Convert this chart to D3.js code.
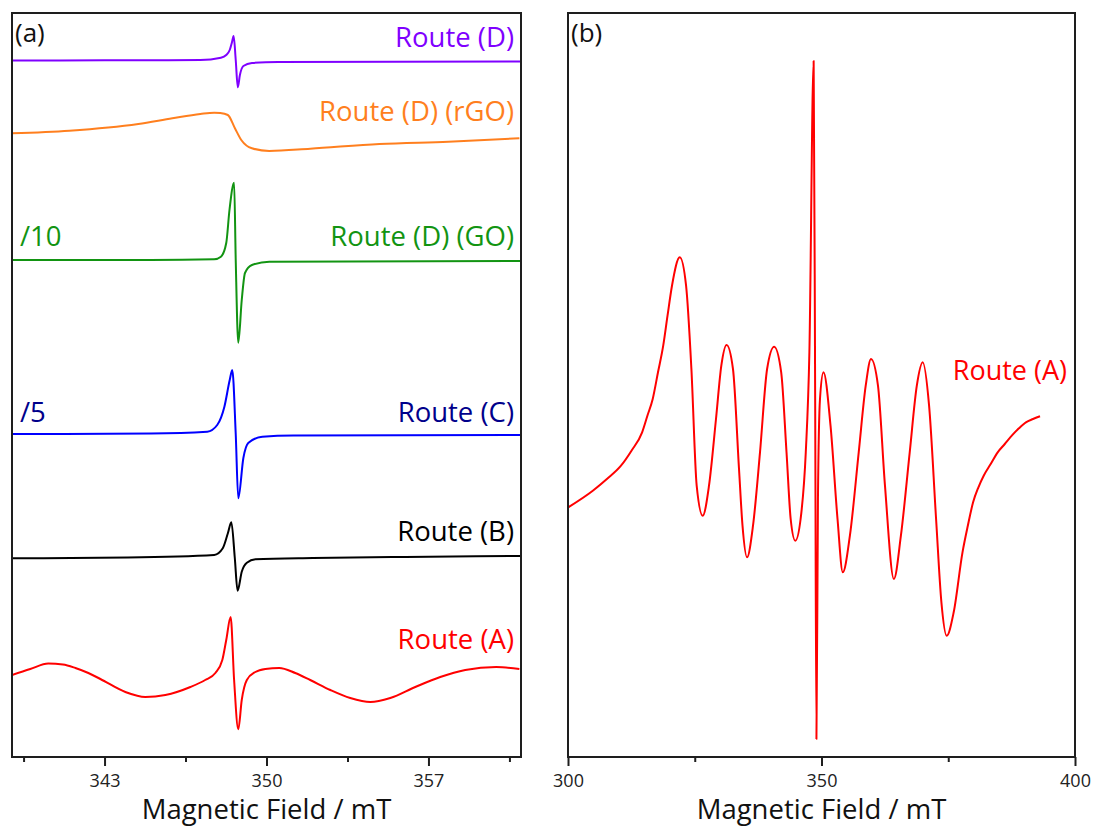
<!DOCTYPE html>
<html>
<head>
<meta charset="utf-8">
<script src="https://cdn.jsdelivr.net/npm/d3@7"></script>
<style>
  body { margin: 0; background: #fff; }
  text { font-family: "Open Sans", sans-serif; }
</style>
</head>
<body>
<div class="chart-container"></div>
<script>
// ---- panel (a): stacked EPR spectra, field in mT, intensity in a.u. above each baseline ----
var fieldA = [339.0, 339.79, 340.57, 341.2, 341.74, 342.3, 342.82, 343.9, 344.76, 345.63, 346.71, 347.35, 347.79, 348.09, 348.26, 348.45, 348.6, 348.78, 348.93, 349.15, 349.52, 349.95, 350.55, 351.24, 351.89, 352.76, 353.62, 354.49, 355.35, 356.43, 357.51, 358.59, 359.93, 360.93];
var intensA = [5, 11, 16.5, 15.5, 12, 7, 1, -12, -17, -15, -7, 0, 7, 20, 40, 63, 0, -49.3, -20, 0, 8, 11, 12, 7, 0, -10, -18, -22, -18, -7, 3, 10, 13, 11];

var fieldB = [339.0, 344.0, 347.74, 348.11, 348.33, 348.48, 348.63, 348.75, 348.93, 349.15, 349.52, 352.0, 356.0, 361.0];
var intensB = [-1.3, -0.5, 2, 8.7, 23.7, 34.7, -1, -33.7, -14.7, -5.7, -2.3, -1, 0, 1];

var fieldC = [339.0, 345.0, 347.44, 347.87, 348.18, 348.41, 348.52, 348.67, 348.78, 349.0, 349.21, 349.82, 351.16, 361.0];
var intensC = [0.5, 1, 2.8, 9.5, 27.8, 54.5, 64.5, 0.5, -63.8, -23.5, -8.5, -2.2, -1, -0.5];

var fieldGO = [339.0, 345.0, 347.74, 348.03, 348.26, 348.40, 348.60, 348.67, 348.78, 348.93, 349.07, 349.37, 350.12, 361.0];
var intensGO = [0.5, 0.5, 1.2, 3.8, 17.5, 50.5, 77.8, 0.5, -82.2, -39.5, -12.5, -4.5, -1.2, -0.5];

var fieldRGO = [339.0, 341.48, 344.46, 345.93, 347.14, 347.74, 348.0, 348.33, 348.63, 348.91, 349.37, 350.12, 351.89, 354.88, 357.86, 360.93];
var intensRGO = [6.7, 9.3, 16, 21.7, 26, 27.3, 27, 25, 12, 0, -8.3, -11, -8.7, -4, -1.7, 1.7];

var fieldD = [339.0, 343.0, 347.14, 348.03, 348.26, 348.41, 348.51, 348.58, 348.67, 348.76, 348.85, 349.0, 349.37, 350.5, 361.0];
var intensD = [0.5, 0.7, 1, 3.3, 6, 11, 19, 25, 1, -26.3, -14, -5, -2, -1, -0.5];

var namesA = ['Route (A)', 'Route (B)', 'Route (C)', 'Route (D) (GO)', 'Route (D) (rGO)', 'Route (D)'];
var offsetsA = [77, 200, 322.5, 496.5, 617, 696];
var lineColors = ['#ff0000', '#000000', '#0000ff', '#129412', '#ff7f1e', '#7f00ff'];
var textColors = ['#ff0000', '#000000', '#00008b', '#129412', '#ff7f1e', '#7f00ff'];
var scaleNotes = ['', '', '/5', '/10', '', ''];

var ticksA = [343, 350, 357];
var minorTicksA = [339.5, 346.5, 353.5, 360.5];

// ---- panel (b): Route (A) wide sweep ----
var fieldWide = [300.04, 304.89, 307.67, 310.45, 312.52, 314.62, 315.66, 316.71, 317.75, 318.78, 319.63, 320.51, 322.05, 323.29, 324.34, 325.38, 326.57, 327.81, 329.19, 330.24, 331.28, 332.54, 333.73, 334.42, 335.31, 336.49, 337.87, 339.27, 340.67, 342.05, 343.10, 343.92, 344.83, 345.88, 346.90, 347.61, 348.45, 348.75, 349.0, 349.3, 349.7, 350.39, 351.78, 353.16, 354.20, 355.60, 357.34, 358.72, 359.76, 361.14, 362.52, 364.28, 365.66, 367.40, 368.80, 369.96, 371.22, 372.60, 373.65, 374.69, 376.07, 377.81, 378.86, 379.90, 380.95, 381.99, 383.37, 384.75, 386.15, 387.53, 388.94, 390.32, 391.72, 393.10];
var intensWide = [249.7, 266.3, 278, 291.3, 306.3, 324.7, 341.3, 358, 384.7, 411.3, 441.3, 471.3, 499.7, 471.3, 388, 271.3, 241.3, 271.3, 338, 391.3, 412, 388, 288, 231.3, 199.7, 231.3, 304.7, 388, 410.3, 384.7, 304.7, 238, 216.3, 238, 304.7, 404.7, 696, 358, 18, 258, 358, 384.7, 331.3, 238, 184.7, 221.3, 304.7, 371.3, 398, 371.3, 271.3, 178, 221.3, 304.7, 371.3, 394.7, 351.3, 238, 154.7, 121.3, 144.7, 204.7, 231.3, 254.7, 269.7, 281.3, 293, 304.7, 313, 321.3, 328.7, 334.7, 338, 340.7];

var ticksB = [300, 350, 400];
var minorTicksB = [325, 375];

var seriesFields = [fieldA, fieldB, fieldC, fieldGO, fieldRGO, fieldD];
var seriesIntens = [intensA, intensB, intensC, intensGO, intensRGO, intensD];

function zip(f, v) {
  return f.map(function (d, i) { return {x: d, y: v[i]}; });
}

var width = 1094;
var height = 828;
var svg = d3.select('.chart-container')
  .append('svg')
  .attr('width', width)
  .attr('height', height);

var pa = {left: 12, right: 521, top: 13, bottom: 757};
var pb = {left: 568, right: 1075, top: 13, bottom: 757};

var xA = d3.scaleLinear().domain([339, 361]).range([pa.left, pa.right]);
var yA = d3.scaleLinear().domain([0, 744]).range([pa.bottom, pa.top]);
var xB = d3.scaleLinear().domain([300, 400]).range([pb.left, pb.right]);
var yB = d3.scaleLinear().domain([0, 744]).range([pb.bottom, pb.top]);

var defs = svg.append('defs');
[['clipA', pa], ['clipB', pb]].forEach(function (c) {
  defs.append('clipPath').attr('id', c[0])
    .append('rect')
    .attr('x', c[1].left).attr('y', c[1].top)
    .attr('width', c[1].right - c[1].left)
    .attr('height', c[1].bottom - c[1].top);
});

// panel (a) traces
var gA = svg.append('g').attr('clip-path', 'url(#clipA)');
namesA.forEach(function (name, i) {
  var off = offsetsA[i];
  var line = d3.line()
    .x(function (d) { return xA(d.x); })
    .y(function (d) { return yA(off + d.y); })
    .curve(d3.curveMonotoneX);
  gA.append('path')
    .datum(zip(seriesFields[i], seriesIntens[i]))
    .attr('d', line)
    .attr('fill', 'none')
    .attr('stroke', lineColors[i])
    .attr('stroke-width', 2)
    .attr('stroke-linejoin', 'round');
});

// labels sit a little above each baseline
var labelLift = [31, 16, 13, 14.5, 19, 14];
namesA.forEach(function (name, i) {
  var y0 = yA(offsetsA[i]) - labelLift[i];
  svg.append('text')
    .attr('x', 514).attr('y', y0)
    .attr('text-anchor', 'end')
    .attr('font-size', 27.5)
    .attr('fill', textColors[i])
    .text(name);
  if (scaleNotes[i]) {
    svg.append('text')
      .attr('x', 20).attr('y', y0)
      .attr('font-size', 27.5)
      .attr('fill', textColors[i])
      .text(scaleNotes[i]);
  }
});

// panel (b) trace
var lineB = d3.line()
  .x(function (d) { return xB(d.x); })
  .y(function (d) { return yB(d.y); })
  .curve(d3.curveMonotoneX);
svg.append('g').attr('clip-path', 'url(#clipB)')
  .append('path')
  .datum(zip(fieldWide, intensWide))
  .attr('d', lineB)
  .attr('fill', 'none')
  .attr('stroke', '#ff0000')
  .attr('stroke-width', 2)
  .attr('stroke-linejoin', 'round');

svg.append('text')
  .attr('x', 1067).attr('y', 380)
  .attr('text-anchor', 'end')
  .attr('font-size', 27)
  .attr('fill', '#ff0000')
  .text('Route (A)');

// frames and axes
function drawAxes(p, x, major, minor, tag) {
  svg.append('rect')
    .attr('x', p.left).attr('y', p.top)
    .attr('width', p.right - p.left).attr('height', p.bottom - p.top)
    .attr('fill', 'none')
    .attr('stroke', '#1e1e1e')
    .attr('stroke-width', 2);

  var gMaj = svg.append('g')
    .attr('transform', 'translate(0,' + p.bottom + ')')
    .call(d3.axisBottom(x).tickValues(major).tickSize(9).tickFormat(d3.format('d')));
  gMaj.select('.domain').remove();
  gMaj.selectAll('line').attr('stroke', '#1e1e1e').attr('stroke-width', 2);
  gMaj.selectAll('text')
    .attr('y', 30).attr('dy', null)
    .style('font-size', '18px')
    .style('font-family', '"Open Sans", sans-serif')
    .attr('fill', '#222');

  var gMin = svg.append('g')
    .attr('transform', 'translate(0,' + p.bottom + ')')
    .call(d3.axisBottom(x).tickValues(minor).tickSize(5).tickFormat(''));
  gMin.select('.domain').remove();
  gMin.selectAll('line').attr('stroke', '#1e1e1e').attr('stroke-width', 2);

  svg.append('text')
    .attr('x', (p.left + p.right) / 2).attr('y', 819)
    .attr('text-anchor', 'middle')
    .attr('font-size', 27.5)
    .attr('fill', '#111')
    .text('Magnetic Field / mT');

  svg.append('text')
    .attr('x', p.left + 3).attr('y', 42)
    .attr('font-size', 26)
    .attr('fill', '#111')
    .text(tag);
}

drawAxes(pa, xA, ticksA, minorTicksA, '(a)');
drawAxes(pb, xB, ticksB, minorTicksB, '(b)');
</script>
</body>
</html>
